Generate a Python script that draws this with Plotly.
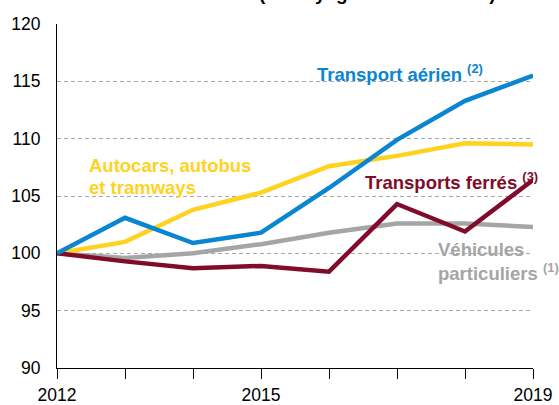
import plotly.graph_objects as go

years = [2012, 2013, 2014, 2015, 2016, 2017, 2018, 2019]
aerien = [100, 103.1, 100.9, 101.8, 105.7, 109.9, 113.3, 115.5]
autocars = [100, 101.0, 103.8, 105.3, 107.6, 108.5, 109.6, 109.5]
ferres = [100, 99.3, 98.7, 98.9, 98.4, 104.3, 101.9, 106.4]
vp = [100, 99.6, 100.0, 100.8, 101.8, 102.6, 102.6, 102.3]

x_tickvals = [2012, 2015, 2019]
x_ticktext = ["2012", "2015", "2019"]
y_ticks = [90, 95, 100, 105, 110, 115, 120]

C_AIR = "#0A85D1"
C_BUS = "#FFD21F"
C_FER = "#800B2A"
C_VP = "#A5A5A5"

fig = go.Figure()
for ys, c in [(vp, C_VP), (autocars, C_BUS), (ferres, C_FER), (aerien, C_AIR)]:
    fig.add_trace(go.Scatter(x=years, y=ys, mode="lines",
                             line=dict(color=c, width=4.5), showlegend=False,
                             hoverinfo="skip"))

font_b = "Liberation Sans, Arial, sans-serif"
FS = 18.5
ann = [
    dict(x=2015.79, y=115.7, text="<b>Transport aérien</b> <sup><b>(2)</b></sup>",
         color=C_AIR, xanchor="left"),
    dict(x=2012.44, y=107.7, text="<b>Autocars, autobus</b>", color=C_BUS, xanchor="left"),
    dict(x=2012.44, y=105.7, text="<b>et tramways</b>", color=C_BUS, xanchor="left"),
    dict(x=2016.5, y=106.3, text="<b>Transports ferrés</b> <sup><b>(3)</b></sup>",
         color=C_FER, xanchor="left"),
    dict(x=2017.58, y=100.35, text="<b>Véhicules</b>", color=C_VP, xanchor="left"),
    dict(x=2017.57, y=98.35, text="<b>particuliers</b> <sup><b>(1)</b></sup>",
         color=C_VP, xanchor="left"),
]
for a in ann:
    fig.add_annotation(x=a["x"], y=a["y"], text=a["text"], showarrow=False,
                       xanchor=a["xanchor"], yanchor="middle",
                       font=dict(family=font_b, size=FS, color=a["color"]))

fig.add_annotation(x=(377.5 - 57) / (559 - 57 - 26), y=1.0, xref="paper", yref="paper",
                   yshift=30.5, text="<b>(en voyageurs-kilomètres)</b>", showarrow=False,
                   xanchor="center", yanchor="middle",
                   font=dict(family=font_b, size=19, color="#000000"))

fig.update_layout(
    width=559, height=405,
    margin=dict(l=57, r=26, t=24, b=37, autoexpand=False),
    paper_bgcolor="white", plot_bgcolor="white",
    font=dict(family="Liberation Sans, Arial, sans-serif", size=17.5, color="#000000"),
    xaxis=dict(range=[2012, 2019], tickvals=x_tickvals, ticktext=x_ticktext,
               automargin=False,
               showgrid=False, showline=True, linecolor="#000000", linewidth=1,
               ticks="outside", ticklen=10, tickcolor="#000000", tickwidth=1,
               ticklabelstandoff=1,
               minor=dict(tickvals=years, ticks="outside", ticklen=10,
                          tickcolor="#000000", tickwidth=1, showgrid=False),
               zeroline=False, fixedrange=True),
    yaxis=dict(range=[90, 120], tickvals=y_ticks, showgrid=True, automargin=False,
               gridcolor="#A8A8A8", griddash="4px,3px", gridwidth=1,
               showline=True, linecolor="#000000", linewidth=1,
               ticks="", ticklabelstandoff=12, zeroline=False, fixedrange=True),
)

fig.write_html("out.html", config={"displayModeBar": False, "staticPlot": True},
               post_script="document.body.style.margin='0px';")
